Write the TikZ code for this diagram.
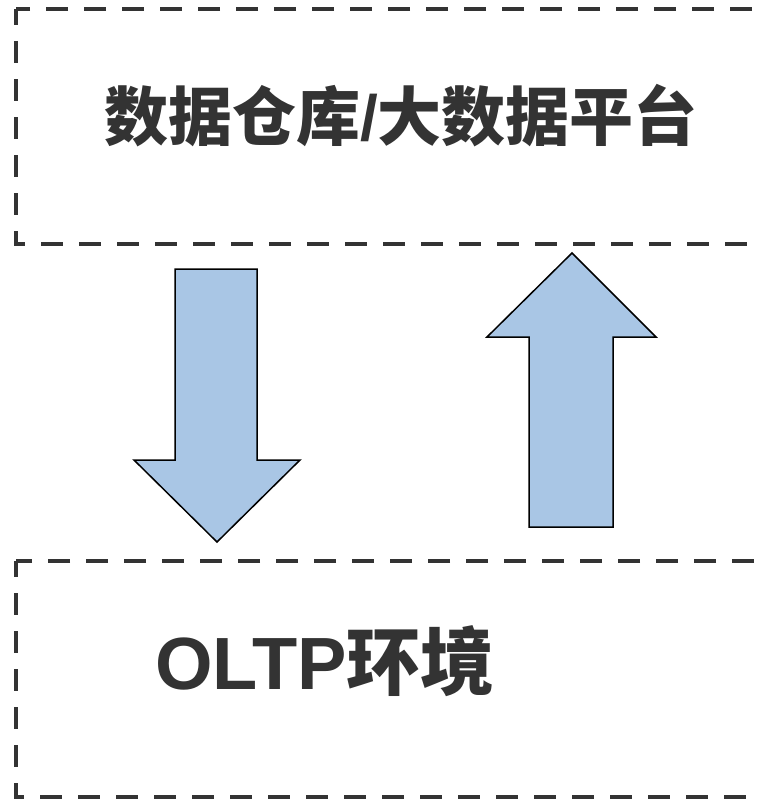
\documentclass[tikz,border=0pt]{standalone}
\usepackage{fontspec}
\setmainfont{Liberation Sans}
\newfontfamily\cjk{Noto Sans CJK SC}
\newlength{\du}
\setlength{\du}{1bp}
\tikzset{
  dashbox/.style={draw=dialinegray, line width=4.500000\du, dash pattern=on 22\du off 16\du, dash phase=6\du},
  blockarrow/.style={fill=dialineblue, draw=black, line width=1.500000\du, line join=miter},
  boxlabel/.style={text=dialinegray, inner sep=0pt, font=\bfseries}
}

\begin{document}
\begin{tikzpicture}
\pgftransformxscale{1.000000}
\pgftransformyscale{-1.000000}
\definecolor{dialinegray}{rgb}{0.200000, 0.200000, 0.200000}
\definecolor{dialineblue}{rgb}{0.662745, 0.776471, 0.898039}
\useasboundingbox (0\du,0\du) rectangle (761\du,800\du);
% dashed frames
\draw[dashbox] (16.000000\du,9.000000\du) rectangle (830.000000\du,244.000000\du);
\draw[dashbox] (16.000000\du,561.000000\du) rectangle (830.000000\du,797.000000\du);
% setfont left to latex
\node[boxlabel, font=\fontsize{64bp}{68bp}\selectfont\bfseries] (dwtitle) at (401.000000\du,116.000000\du){{\cjk 数据仓库}/{\cjk 大数据平台}};
\node[boxlabel, font=\fontsize{74bp}{78bp}\selectfont\bfseries] (oltptitle) at (325.000000\du,661.000000\du){OLTP{\cjk 环境}};
% down arrow
\draw[blockarrow] (175.000000\du,269.000000\du)--(257.000000\du,269.000000\du)--(257.000000\du,460.000000\du)--(300.000000\du,460.000000\du)--(217.000000\du,542.000000\du)--(134.000000\du,460.000000\du)--(175.000000\du,460.000000\du)--cycle;
% up arrow
\draw[blockarrow] (529.000000\du,527.000000\du)--(613.000000\du,527.000000\du)--(613.000000\du,337.000000\du)--(656.000000\du,337.000000\du)--(572.000000\du,253.000000\du)--(487.000000\du,337.000000\du)--(529.000000\du,337.000000\du)--cycle;
\end{tikzpicture}
\end{document}
